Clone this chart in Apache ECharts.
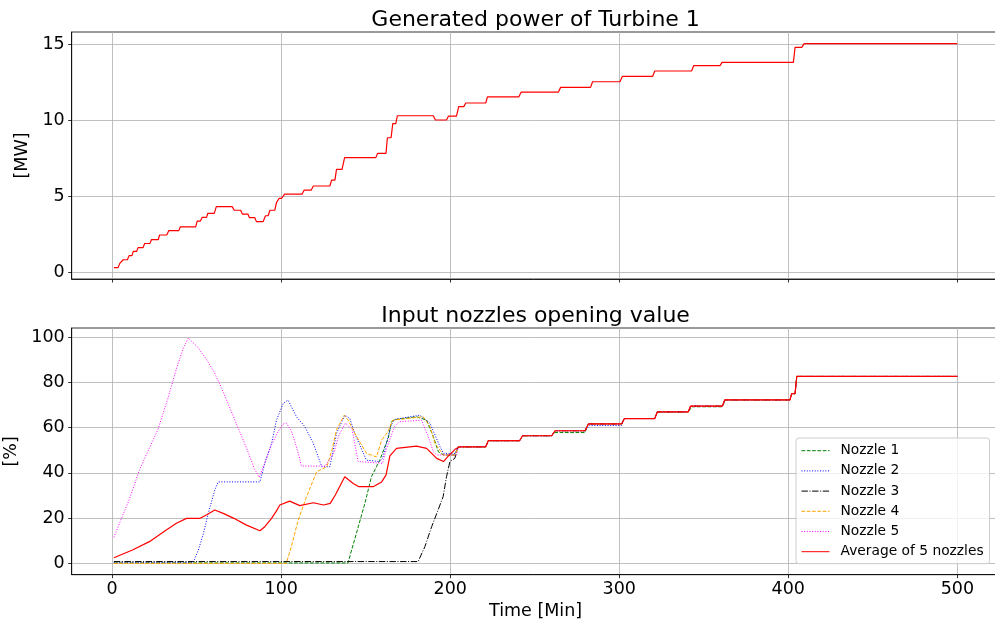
<!DOCTYPE html>
<html>
<head>
<meta charset="utf-8">
<script src="https://cdn.jsdelivr.net/npm/echarts@6/dist/echarts.min.js"></script>
<style>
  html, body { margin: 0; padding: 0; background: #fff; }
  #chart { width: 995px; height: 620px; }
</style>
</head>
<body>
<div id="chart"></div>
<script>
// ====== tick labels ======
const xTicks = [0, 100, 200, 300, 400, 500];
const powerTicks = [0, 5, 10, 15];
const pctTicks = [0, 20, 40, 60, 80, 100];

// ====== generated power [MW], [minute, value] ======
const power = [
  [1,0.31],[3.5,0.31],[4.5,0.59],[5.5,0.59],[6.5,0.83],[9,0.83],[10,1.1],[11.7,1.1],
  [12.5,1.38],[14.5,1.38],[15.3,1.63],[18.3,1.63],[19.2,1.9],[22.3,1.9],[23.2,2.15],
  [27.3,2.15],[28,2.46],[32.3,2.46],[33.5,2.75],[39.4,2.75],[40.3,3.0],[49.4,3.0],
  [50.3,3.38],[52.2,3.38],[53.2,3.62],[55.8,3.62],[56.6,3.89],[60.4,3.89],[61.6,4.33],
  [71,4.33],[72.2,4.09],[76,4.09],[77,3.84],[80.3,3.84],[81.2,3.6],[84.4,3.6],[85.3,3.34],
  [89.3,3.34],[90.7,3.73],[92.3,3.73],[93.3,4.09],[96.2,4.09],[97.2,4.59],[98.2,4.59],
  [98.8,4.88],[100.2,4.88],[102,5.16],[112.4,5.16],[113.6,5.42],[117.8,5.42],[119,5.69],
  [128.8,5.69],[129.8,6.08],[131.8,6.08],[132.7,6.79],[136,6.79],[137.5,7.56],[156,7.56],
  [157,7.84],[162,7.84],[162.8,8.87],[165,8.87],[166,9.8],[167.8,9.8],[168.7,10.32],
  [190,10.32],[191.2,10.04],[197.8,10.04],[199,10.3],[203.7,10.3],[205,10.92],[208,10.92],
  [209.2,11.16],[221,11.16],[222,11.57],[240.6,11.57],[242,11.88],[264,11.88],[265.3,12.19],
  [283,12.19],[284.2,12.56],[300.4,12.56],[301.8,12.91],[319.7,12.91],[321,13.27],
  [342.8,13.27],[344,13.62],[359.6,13.62],[360.8,13.84],[403,13.84],[404,14.83],[408,14.83],
  [409.4,15.07],[500,15.07]
];

// ====== nozzle openings [%] ======
// 200 分鐘之後各噴嘴幾乎一致的階梯
const plateau = [
  [221,51.5],[222.5,54.2],[241,54.2],[242.8,56.4],[260,56.4],[262,58.6],[279.7,58.6],
  [281.7,61.6],[301.4,61.6],[303,64],[321,64],[322.5,66.9],[340.8,66.9],[342.2,69.5],
  [361,69.5],[362.4,72.2],[401,72.2],[402,75],[404,75],[405,82.6],[500,82.6]
];
const plateauN1 = [
  [221,51.5],[222.5,54.2],[241,54.2],[242.8,56.4],[260,56.4],[262,57.8],[279.7,57.8],
  [281.7,61.6],[301.4,61.6],[303,64],[321,64],[322.5,66.9],[340.8,66.9],[343,69.2],
  [361,69.2],[362.8,72.2],[401,72.2],[402,75],[404,75],[405,82.6],[500,82.6]
];
const plateauN2 = [
  [221,51.5],[222.5,54.2],[241,54.2],[242.8,56.4],[260,56.4],[262,58.6],[279.7,58.6],
  [282.5,60.9],[301.4,60.9],[303,64],[321,64],[322.5,66.9],[340.8,66.9],[342.2,69.5],
  [361,69.5],[362.4,72.2],[401,72.2],[402,75],[404,75],[405,82.6],[500,82.6]
];

const nozzle1 = [
  [1,0.2],[139.5,0.2],[144.5,13.3],[149.5,26.5],[153.4,38.3],[158.3,45.6],[161.3,51.5],
  [163.3,55.2],[165.2,62.6],[168,63.6],[180,64.8],[186,63.3],[190,56],[193,49.3],[196,47.9],
  [202.7,47.9],[204.7,51.5]
];
const nozzle2 = [
  [1,0.5],[48,0.5],[51,5.9],[54,13.3],[56.8,22],[60.7,32.4],[62.7,36],[87.4,36],[90.3,44.2],
  [94.3,53],[97.2,63.3],[101.2,70.7],[104,72.2],[109,64.8],[114,60.4],[119,53],[124,42.7],
  [128.8,42.7],[132.7,57.4],[137.6,65.5],[140.6,64],[143.5,57.4],[150.4,45.6],[158.3,45],
  [160,46.5],[165,61],[167,63.6],[182,65.5],[188,61.9],[194,51.5],[196,48.6],[203,48.6],
  [204.7,51.5]
];
const nozzle3 = [
  [1,0.8],[181,0.8],[185,7.4],[189,16.2],[192,22],[195.8,29.5],[197.8,38.3],[199.8,45],
  [202.7,46.4],[204.7,51.5]
];
const nozzle4 = [
  [1,0],[103,0],[106,7.4],[110,19],[115,29.5],[121,40.5],[127,42.7],[130,50],[132.7,59],
  [137.3,65.5],[139.6,63.3],[144.6,56],[150.5,48.6],[156.4,47],[159.4,54.5],[163,58],
  [166,63.3],[184,64.8],[188,60.4],[191,53],[196,47.9],[203,47.9],[204.7,51.5]
];
const nozzle5 = [
  [1,11.5],[5,19],[10,28],[16,41],[22,51],[27,59],[33,73],[38,86],[42,95],[45,99.5],
  [50,96],[55,91],[60,85],[65,77],[70,68],[75,59],[80,50],[84,42],[87,38],[90,44],[94,52],
  [98,58],[101,61.5],[103,62],[106,58.5],[109,51.5],[112,43],[126,43],[131,48.5],[134,56.5],
  [138,62],[142,59],[145.5,45],[160,44.2],[162,50],[167,60.4],[170,62.6],[183,63.3],
  [187,56],[190,49.3],[192,47.9],[203.7,47.9],[204.7,51.5]
];
const average = [
  [1,2.5],[12,5.9],[22,9.6],[32,14.7],[38,17.7],[44,19.9],[52,19.9],[56,21.5],[60.7,23.6],
  [66,22],[72,19.9],[79.5,16.9],[87.4,14.4],[90.3,16.2],[94.3,19.9],[97,23],[99.2,25.8],
  [105,27.5],[111,25.5],[119,26.8],[125,25.8],[129,26.5],[132,30.2],[137.6,38.3],[142.6,35.3],
  [146,33.9],[154.4,33.9],[159.4,36],[162,39],[164.3,47.5],[168.2,50.8],[180,51.8],[186,50.8],
  [192,46.4],[196,45],[198.8,47.4],[203,50.5],[205.7,51.5]
];

const nozzleNames = ['Nozzle 1','Nozzle 2','Nozzle 3','Nozzle 4','Nozzle 5','Average of 5 nozzles'];

// ====== chart ======
const FONT = 'DejaVu Sans';
const LABEL_SIZE = 17.5;
const chart = echarts.init(document.getElementById('chart'), null, { renderer: 'canvas' });

function xAxisFor(gridIndex, showLabels){
  return {
    type: 'value', gridIndex, min: -23.95, max: 524.95,
    axisLine: { show: true, onZero: false, lineStyle: { color: '#000', width: 0.8 } },
    axisTick: { show: true, length: 3.5, lineStyle: { color: '#000', width: 0.8 }, customValues: xTicks },
    axisLabel: { show: showLabels, customValues: xTicks, fontSize: LABEL_SIZE, color: '#000', margin: 6, fontFamily: FONT },
    splitLine: { show: true, lineStyle: { color: '#b0b0b0', width: 0.8 } },
    name: showLabels ? 'Time [Min]' : '',
    nameLocation: 'middle', nameGap: 28,
    nameTextStyle: { fontSize: LABEL_SIZE, color: '#000', fontFamily: FONT }
  };
}
function yAxisFor(gridIndex, min, max, ticks, name, gap){
  return {
    type: 'value', gridIndex, min, max,
    axisLine: { show: true, onZero: false, lineStyle: { color: '#000', width: 0.8 } },
    axisTick: { show: true, length: 3.5, lineStyle: { color: '#000', width: 0.8 }, customValues: ticks },
    axisLabel: { customValues: ticks, fontSize: LABEL_SIZE, color: '#000', margin: 7, fontFamily: FONT },
    splitLine: { show: true, lineStyle: { color: '#b0b0b0', width: 0.8 } },
    name, nameLocation: 'middle', nameGap: gap,
    nameTextStyle: { fontSize: LABEL_SIZE, color: '#000', fontFamily: FONT }
  };
}
function nozzleLine(name, data, color, type, width){
  return {
    name, type: 'line', xAxisIndex: 1, yAxisIndex: 1, data,
    showSymbol: false, symbol: 'none', animation: false,
    lineStyle: { color, width, type }, itemStyle: { color }
  };
}

chart.setOption({
  animation: false,
  textStyle: { fontFamily: FONT },
  graphic: [
    { type: 'text', x: 535.6, y: 20, style: { text: 'Generated power of Turbine 1', fontSize: 22, fontFamily: FONT, fill: '#000', align: 'center', verticalAlign: 'middle' } },
    { type: 'text', x: 535.6, y: 316, style: { text: 'Input nozzles opening value', fontSize: 22, fontFamily: FONT, fill: '#000', align: 'center', verticalAlign: 'middle' } }
  ],
  grid: [
    { left: 71.7, top: 32, width: 927.8, height: 247, outerBoundsMode: 'none', show: true, borderColor: '#000', borderWidth: 0.8 },
    { left: 71.7, top: 328, width: 927.8, height: 246.7, outerBoundsMode: 'none', show: true, borderColor: '#000', borderWidth: 0.8 }
  ],
  xAxis: [ xAxisFor(0, false), xAxisFor(1, true) ],
  yAxis: [
    yAxisFor(0, -0.44, 15.84, powerTicks, '[MW]', 34),
    yAxisFor(1, -5, 104, pctTicks, '[%]', 45)
  ],
  legend: {
    data: nozzleNames,
    orient: 'vertical', left: 796, top: 438,
    itemWidth: 28, itemHeight: 14, itemGap: 6.2,
    padding: [5.7, 6, 5, 5],
    itemStyle: { opacity: 0 },
    lineStyle: { width: 1 },
    backgroundColor: 'rgba(255,255,255,0.8)', borderColor: '#cccccc', borderWidth: 1, borderRadius: 3,
    textStyle: { fontSize: 13.8, color: '#000', fontFamily: FONT, padding: [0, 0, 0, 6] }
  },
  series: [
    {
      name: 'power', type: 'line', xAxisIndex: 0, yAxisIndex: 0, data: power,
      showSymbol: false, symbol: 'none', lineStyle: { color: '#ff0000', width: 1.2 }
    },
    nozzleLine('Nozzle 1', nozzle1.concat(plateauN1), '#008000', [3.7, 1.6], 1),
    nozzleLine('Nozzle 2', nozzle2.concat(plateauN2), '#0000ff', [1, 1.65], 1),
    nozzleLine('Nozzle 3', nozzle3.concat(plateau), '#000000', [6.4, 1.6, 1, 1.6], 1),
    nozzleLine('Nozzle 4', nozzle4.concat(plateau), '#ffa500', [3.7, 1.6], 1),
    nozzleLine('Nozzle 5', nozzle5.concat(plateau), '#ff00ff', [1, 1.65], 1),
    nozzleLine('Average of 5 nozzles', average.concat(plateau), '#ff0000', 'solid', 1.2)
  ]
});
</script>
</body>
</html>
